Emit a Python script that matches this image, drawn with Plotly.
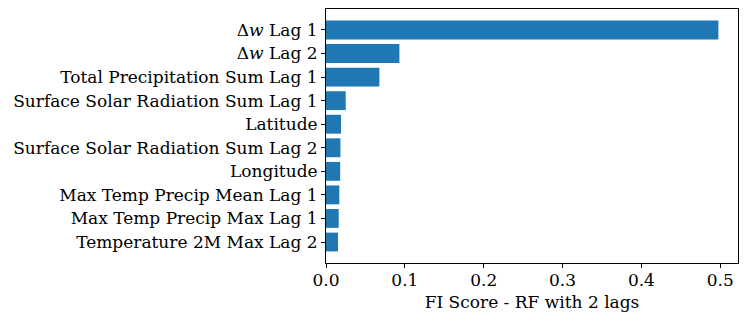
import plotly.graph_objects as go

features = [
    "Δ<i>w</i> Lag 1",
    "Δ<i>w</i> Lag 2",
    "Total Precipitation Sum Lag 1",
    "Surface Solar Radiation Sum Lag 1",
    "Latitude",
    "Surface Solar Radiation Sum Lag 2",
    "Longitude",
    "Max Temp Precip Mean Lag 1",
    "Max Temp Precip Max Lag 1",
    "Temperature 2M Max Lag 2",
]
scores = [0.4976, 0.0931, 0.0677, 0.0250, 0.0190, 0.0183, 0.0180, 0.0169, 0.0161, 0.0152]
tick_vals = [0.0, 0.1, 0.2, 0.3, 0.4, 0.5]
tick_text = ["0.0", "0.1", "0.2", "0.3", "0.4", "0.5"]
x_title = "FI Score - RF with 2 lags"

FONT = "DejaVu Serif"
FS = 17

fig = go.Figure(go.Bar(
    x=scores,
    y=list(range(len(features))),
    orientation="h",
    marker=dict(color="#1f77b4", line=dict(width=0)),
    width=0.8,
))

# page body has an 8px margin, so the figure is sized/offset to compensate
fig.update_layout(
    template="none",
    width=740, height=314,
    margin=dict(l=318, r=10, t=1, b=59, autoexpand=False),
    paper_bgcolor="white", plot_bgcolor="white",
    font=dict(family=FONT, size=FS, color="black"),
    showlegend=False,
)
fig.update_xaxes(
    range=[0, max(scores) * 1.05],
    tickvals=tick_vals, ticktext=tick_text,
    showgrid=False, zeroline=False, automargin=False,
    showline=True, linecolor="black", linewidth=1, mirror=True,
    ticks="outside", ticklen=4, tickwidth=1, tickcolor="black",
    ticklabelstandoff=-2,
    title=dict(text=x_title, standoff=6, font=dict(family=FONT, size=FS)),
    tickfont=dict(family=FONT, size=FS),
)
fig.update_yaxes(
    range=[len(features) - 1 + 0.89, -0.89],
    tickvals=list(range(len(features))), ticktext=features,
    showgrid=False, zeroline=False, automargin=False,
    showline=True, linecolor="black", linewidth=1, mirror=True,
    ticks="outside", ticklen=4, tickwidth=1, tickcolor="black",
    tickfont=dict(family=FONT, size=FS),
)

fig.write_html("out.html")
